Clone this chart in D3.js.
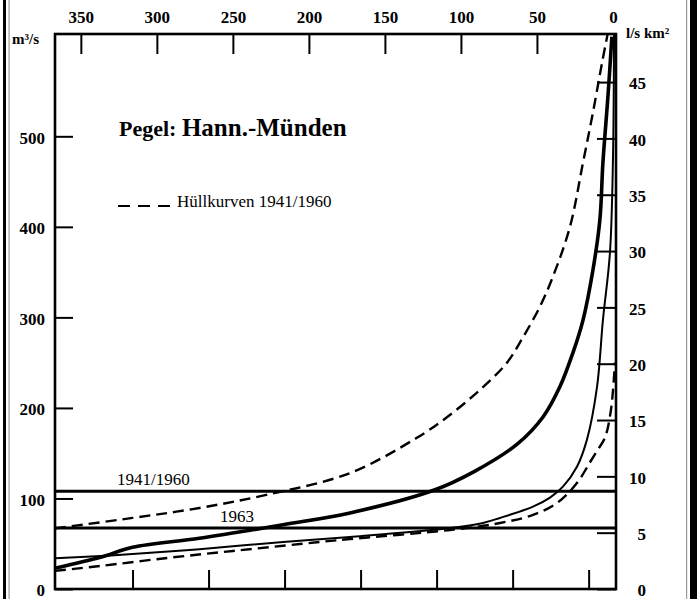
<!DOCTYPE html>
<html lang="de">
<head>
<meta charset="utf-8">
<title>Pegel: Hann.-Münden</title>
<style>
   html,body { margin:0; padding:0; background:white; }
   svg { display:block; font-family:"Liberation Serif",serif; }
   .ax text { font-family:"Liberation Serif",serif; font-weight:bold; font-size:17px; fill:black; }
   .ax line { stroke:black; stroke-width:2; }
   .ax path { display:none; }
</style>
<script src="https://d3js.org/d3.v7.min.js"></script>
</head>
<body>
<script>
// Dauerlinien (Tage überschritten -> Abfluss m3/s)
let upperDays = [367,316,272,228,173,129,109,87.5,69.7,59.2,48,39.5,28.3,19.7,13.2,7.2,3.5];
let upperQ    = [67,78.5,89.5,104,128,167,190,220,250,278,312,345,400,471,526,581,613];
let meanDays  = [367,337,316,272,217,173,118,91,63,46,35,26.3,19.7,13.2,8.6,6.6,3.3,0.7];
let meanQ     = [23,35,46,56,71,84,109,130,160,190,223,261,297,352,408,471,544,610];
let y63Days   = [367,337,316,272,217,173,107,85.5,74.3,52.6,41.4,32.9,23.7,17.1,10.5,6.6,2.0,0,-0.7];
let y63Q      = [34,36.5,38.7,44,52,57.5,67.4,73,78.5,91,101,113,135,165,223,297,371,474,613];
let lowerDays = [367,337.5,293,250,206,173,107,74.3,52.6,36.8,23.7,15.1,9.9,5.3,1.3,-1.3];
let lowerQ    = [20,25.4,34.3,42,49.7,55.2,65.2,72.9,81.8,95,117,140,154,167,198,250];
// Mittelwasser
let mqLabels = ['1941/1960','1963'];
let mqValues = [108,67.4];
// Achsen
let topTicks = [350,300,250,200,150,100,50,0];
let bottomTicks = [316,266,216,166,116,66,16];
let leftTicks = [0,100,200,300,400,500];
let rightTicks = [0,5,10,15,20,25,30,35,40,45];
let area = 12442; // km2 Einzugsgebiet

let width = 697, height = 599;
let margin = {top:34, right:81, bottom:10, left:55};

let x = d3.scaleLinear().domain([367,-2]).range([margin.left, width - margin.right]);
let y = d3.scaleLinear().domain([0,613]).range([height - margin.bottom, margin.top]);
let yR = d3.scaleLinear().domain([0,613*1000/area]).range(y.range());

const svg = d3.select('body').append('svg')
   .attr('width',width).attr('height',height)
   .attr('viewBox',[0,0,width,height]);

// Rand des Scans
svg.append('rect').attr('x',3).attr('y',0).attr('width',3).attr('height',height).attr('fill','black');
svg.append('rect').attr('x',8.5).attr('y',0).attr('width',1.2).attr('height',height).attr('fill','#999');
svg.append('rect').attr('x',686).attr('y',0).attr('width',1.2).attr('height',height).attr('fill','#999');
svg.append('rect').attr('x',690).attr('y',0).attr('width',7).attr('height',height).attr('fill','black');

// Achsen
svg.append('g').attr('class','ax')
   .attr('transform',`translate(0,${margin.top})`)
   .call(d3.axisTop(x).tickValues(topTicks).tickSize(-20).tickPadding(11))
   .call(g => g.selectAll('.tick').filter(d => d===0).select('line').remove());
svg.append('g').attr('class','ax')
   .attr('transform',`translate(0,${height - margin.bottom})`)
   .call(d3.axisBottom(x).tickValues(bottomTicks).tickSize(-19).tickFormat(''));
svg.append('g').attr('class','ax')
   .attr('transform',`translate(${margin.left},0)`)
   .call(d3.axisLeft(y).tickValues(leftTicks).tickSize(-18).tickPadding(10))
   .call(g => g.selectAll('text').attr('dy','0.4em'));
svg.append('g').attr('class','ax')
   .attr('transform',`translate(${width - margin.right},0)`)
   .call(d3.axisRight(yR).tickValues(rightTicks).tickSize(-19))
   .call(g => g.selectAll('text').attr('x',30).attr('text-anchor','end').attr('dy','0.4em'));

// Rahmen
svg.append('rect')
   .attr('x',x.range()[0]).attr('y',y.range()[1])
   .attr('width',x.range()[1]-x.range()[0]).attr('height',y.range()[0]-y.range()[1])
   .attr('fill','none').attr('stroke','black').attr('stroke-width',2.6);

// Einheiten
svg.append('text').attr('x',12).attr('y',44).attr('font-size',15).attr('font-weight','bold').text('m³/s');
svg.append('text').attr('x',626).attr('y',38).attr('font-size',15).attr('font-weight','bold').text('l/s km²');

// Titel
let title = svg.append('text').attr('x',119).attr('y',136).attr('font-weight','bold');
title.append('tspan').attr('font-size',22).text('Pegel: ');
title.append('tspan').attr('font-size',25).text('Hann.-Münden');

// Legende
svg.append('line').attr('x1',118).attr('x2',172).attr('y1',206).attr('y2',206)
   .attr('stroke','black').attr('stroke-width',2).attr('stroke-dasharray','12,8');
svg.append('text').attr('x',177).attr('y',207).attr('font-size',17).text('Hüllkurven 1941/1960');

// MQ Linien
svg.append('g').selectAll('line').data(mqValues).join('line')
   .attr('x1',x.range()[0]).attr('x2',x.range()[1])
   .attr('y1',d => y(d)).attr('y2',d => y(d))
   .attr('stroke','black').attr('stroke-width',3);
svg.append('g').selectAll('text').data(mqLabels).join('text')
   .attr('x',(d,i) => i===0 ? 117 : 220)
   .attr('y',(d,i) => y(mqValues[i]) - 6)
   .attr('font-size',17).text(d => d);

// Kurven
let line = d3.line().x(d => x(d[0])).y(d => y(d[1])).curve(d3.curveCatmullRom.alpha(0.5));
let zip = (a,b) => a.map((d,i) => [d,b[i]]);
let curves = [
   {pts:zip(upperDays,upperQ), w:2.4, dash:'11,6'},
   {pts:zip(lowerDays,lowerQ), w:2.4, dash:'11,6'},
   {pts:zip(y63Days,y63Q), w:2, dash:null},
   {pts:zip(meanDays,meanQ), w:3.6, dash:null},
];
svg.append('g').selectAll('path').data(curves).join('path')
   .attr('d',d => line(d.pts))
   .attr('fill','none').attr('stroke','black')
   .attr('stroke-width',d => d.w)
   .attr('stroke-dasharray',d => d.dash);
</script>
</body>
</html>
